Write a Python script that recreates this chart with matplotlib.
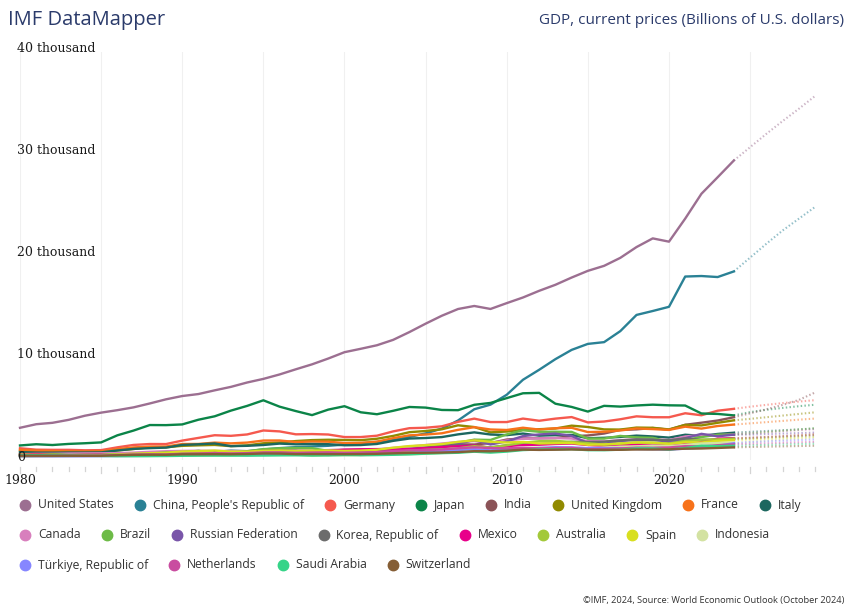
import matplotlib
matplotlib.use("Agg")
import matplotlib.pyplot as plt
import numpy as np
from matplotlib.lines import Line2D
from matplotlib.transforms import blended_transform_factory

# %% data (billions of U.S. dollars, 1980-2029; from 2024 on = projections)
years = list(range(1980, 2030))
last_actual = 2024

us = [2857, 3207, 3343, 3634, 4037, 4339, 4580, 4855, 5236, 5642,
      5963, 6158, 6520, 6859, 7287, 7640, 8073, 8578, 9063, 9631,
      10251, 10582, 10929, 11457, 12217, 13039, 13816, 14474, 14770, 14478,
      15049, 15600, 16254, 16843, 17551, 18206, 18695, 19477, 20533, 21381,
      21060, 23315, 25744, 27361, 29000, 30300, 31600, 32850, 34050, 35300]
china = [305, 290, 284, 304, 314, 310, 301, 327, 410, 456,
         395, 415, 495, 623, 566, 737, 868, 966, 1032, 1097,
         1214, 1344, 1477, 1671, 1967, 2309, 2775, 3571, 4670, 5122,
         6087, 7552, 8532, 9570, 10476, 11062, 11233, 12311, 13895, 14280,
         14688, 17650, 17700, 17600, 18150, 19500, 20850, 22150, 23300, 24450]
germany = [854, 718, 700, 700, 657, 673, 946, 1180, 1270, 1266,
           1604, 1868, 2130, 2071, 2206, 2593, 2504, 2218, 2244, 2200,
           1950, 1951, 2083, 2505, 2818, 2861, 3002, 3440, 3752, 3418,
           3417, 3758, 3545, 3753, 3905, 3383, 3470, 3691, 3977, 3889,
           3887, 4278, 4083, 4527, 4710, 4920, 5100, 5270, 5420, 5560]
japan = [1129, 1248, 1172, 1280, 1346, 1428, 2121, 2586, 3126, 3117,
         3186, 3648, 3981, 4537, 4999, 5546, 4923, 4492, 4098, 4636,
         4968, 4374, 4182, 4519, 4893, 4831, 4601, 4579, 5106, 5289,
         5759, 6233, 6272, 5212, 4897, 4444, 5003, 4930, 5041, 5118,
         5055, 5034, 4256, 4213, 4070, 4390, 4617, 4799, 4968, 5110]
india = [186, 196, 204, 222, 215, 237, 253, 283, 301, 301,
         327, 275, 293, 284, 333, 367, 400, 423, 429, 466,
         477, 494, 524, 618, 722, 834, 949, 1238, 1224, 1365,
         1708, 1823, 1828, 1857, 2039, 2104, 2295, 2652, 2703, 2836,
         2672, 3150, 3354, 3568, 3889, 4272, 4665, 5092, 5577, 6307]
uk = [604, 587, 550, 517, 490, 521, 643, 781, 949, 949,
      1093, 1141, 1180, 1061, 1141, 1344, 1419, 1560, 1653, 1687,
      1666, 1646, 1786, 2063, 2426, 2543, 2712, 3100, 2929, 2412,
      2491, 2675, 2719, 2786, 3066, 2934, 2700, 2683, 2879, 2857,
      2697, 3143, 3089, 3345, 3588, 3730, 3890, 4050, 4210, 4370]
france = [702, 617, 582, 557, 530, 553, 770, 937, 1022, 1027,
          1272, 1277, 1407, 1334, 1410, 1609, 1615, 1464, 1513, 1497,
          1366, 1383, 1501, 1844, 2119, 2197, 2320, 2657, 2918, 2690,
          2643, 2863, 2683, 2812, 2856, 2439, 2472, 2595, 2790, 2729,
          2647, 2966, 2779, 3031, 3174, 3290, 3410, 3530, 3650, 3760]
italy = [480, 432, 428, 443, 443, 455, 638, 794, 867, 920,
         1182, 1245, 1323, 1064, 1094, 1174, 1312, 1243, 1270, 1252,
         1147, 1169, 1276, 1578, 1806, 1858, 1949, 2214, 2410, 2199,
         2138, 2294, 2087, 2141, 2162, 1837, 1878, 1961, 2093, 2012,
         1897, 2179, 2067, 2255, 2376, 2460, 2540, 2620, 2700, 2780]
canada = [276, 306, 314, 341, 355, 364, 377, 431, 507, 565,
          596, 612, 594, 579, 579, 604, 628, 655, 634, 678,
          744, 738, 760, 895, 1026, 1173, 1319, 1468, 1553, 1376,
          1617, 1793, 1828, 1847, 1805, 1556, 1528, 1650, 1725, 1744,
          1655, 2008, 2161, 2142, 2214, 2320, 2420, 2520, 2620, 2720]
brazil = [237, 263, 281, 203, 209, 222, 268, 294, 330, 445,
          462, 602, 400, 438, 558, 769, 850, 883, 864, 599,
          655, 559, 509, 558, 669, 892, 1108, 1397, 1696, 1667,
          2209, 2616, 2465, 2472, 2456, 1802, 1797, 2063, 1917, 1873,
          1476, 1670, 1951, 2174, 2188, 2307, 2436, 2564, 2691, 2822]
russia = [None] * 12 + [
          460, 435, 395, 395, 392, 405, 271, 196,
          260, 307, 345, 430, 591, 764, 990, 1300, 1661, 1223,
          1525, 2046, 2208, 2292, 2059, 1363, 1277, 1574, 1657, 1693,
          1493, 1837, 2266, 2021, 2184, 2196, 2240, 2290, 2340, 2390]
korea = [68, 77, 83, 93, 104, 108, 124, 157, 207, 256,
         298, 352, 376, 420, 502, 612, 649, 601, 384, 497,
         576, 548, 627, 703, 793, 935, 1053, 1172, 1047, 944,
         1144, 1253, 1278, 1370, 1484, 1466, 1500, 1624, 1725, 1651,
         1644, 1818, 1674, 1713, 1760, 1830, 1900, 1970, 2040, 2110]
mexico = [228, 293, 197, 170, 211, 219, 150, 165, 204, 244,
          289, 342, 390, 452, 478, 341, 406, 503, 528, 600,
          708, 756, 772, 729, 782, 877, 975, 1053, 1110, 900,
          1058, 1180, 1201, 1274, 1315, 1171, 1078, 1159, 1222, 1269,
          1090, 1273, 1464, 1789, 1848, 1890, 1960, 2040, 2120, 2200]
australia = [163, 187, 194, 177, 194, 180, 182, 189, 235, 299,
             312, 326, 325, 312, 322, 368, 401, 436, 399, 389,
             416, 379, 396, 467, 614, 695, 748, 853, 1055, 928,
             1148, 1398, 1547, 1577, 1468, 1351, 1208, 1327, 1427, 1392,
             1328, 1555, 1693, 1724, 1802, 1880, 1950, 2030, 2110, 2200]
spain = [232, 204, 198, 172, 173, 182, 251, 317, 374, 417,
         536, 575, 629, 525, 529, 612, 643, 590, 619, 634,
         598, 627, 708, 907, 1069, 1157, 1264, 1478, 1631, 1491,
         1421, 1478, 1324, 1355, 1372, 1196, 1233, 1313, 1421, 1394,
         1277, 1447, 1420, 1582, 1647, 1710, 1770, 1830, 1890, 1950]
indonesia = [99, 115, 122, 107, 111, 111, 102, 97, 108, 124,
             138, 154, 168, 187, 204, 230, 261, 243, 112, 168,
             179, 174, 213, 258, 279, 310, 397, 470, 558, 579,
             755, 893, 918, 913, 891, 861, 932, 1015, 1042, 1119,
             1059, 1187, 1319, 1371, 1403, 1490, 1590, 1700, 1810, 1930]
turkiye = [95, 96, 84, 79, 75, 87, 93, 106, 112, 144,
           207, 210, 219, 247, 177, 232, 249, 256, 275, 256,
           274, 201, 240, 315, 409, 506, 557, 681, 770, 649,
           777, 838, 881, 957, 939, 864, 869, 859, 779, 760,
           720, 818, 907, 1108, 1344, 1460, 1530, 1590, 1650, 1720]
netherlands = [192, 163, 158, 151, 141, 141, 196, 240, 255, 253,
               318, 326, 357, 350, 378, 452, 450, 413, 432, 447,
               416, 432, 475, 582, 662, 689, 733, 849, 948, 870,
               848, 904, 839, 878, 892, 765, 784, 834, 915, 910,
               932, 1055, 1047, 1154, 1228, 1280, 1330, 1380, 1430, 1480]
saudi = [165, 184, 154, 129, 119, 104, 86, 86, 88, 96,
         117, 132, 137, 133, 135, 143, 158, 165, 146, 161,
         190, 184, 189, 216, 258, 328, 377, 416, 520, 429,
         528, 676, 741, 753, 766, 669, 666, 715, 846, 838,
         734, 874, 1108, 1068, 1100, 1137, 1180, 1220, 1260, 1300]
switzerland = [125, 122, 122, 124, 118, 120, 170, 211, 222, 215,
               265, 268, 276, 269, 295, 344, 334, 285, 292, 284,
               279, 288, 313, 362, 403, 418, 437, 484, 570, 563,
               618, 723, 694, 712, 737, 705, 699, 705, 736, 732,
               752, 813, 832, 885, 942, 980, 1010, 1040, 1070, 1100]

countries = [
    "United States", "China, People's Republic of", "Germany", "Japan",
    "India", "United Kingdom", "France", "Italy",
    "Canada", "Brazil", "Russian Federation", "Korea, Republic of",
    "Mexico", "Australia", "Spain", "Indonesia",
    "Türkiye, Republic of", "Netherlands", "Saudi Arabia", "Switzerland",
]
series = [us, china, germany, japan, india, uk, france, italy,
          canada, brazil, russia, korea, mexico, australia, spain, indonesia,
          turkiye, netherlands, saudi, switzerland]
colors = ["#9c6f91", "#2a8195", "#f5594e", "#0b8448", "#8b5357", "#918a00",
          "#f7721a", "#1c675f", "#d87fbd", "#6dbb47", "#7955a9", "#6c6c6c",
          "#e8008a", "#a3c93a", "#d8df1f", "#d3e2a2", "#8686ff", "#c94ca0",
          "#36d488", "#855e35"]
y_ticks = [0, 10000, 20000, 30000, 40000]
y_labels = ["0", "10 thousand", "20 thousand", "30 thousand", "40 thousand"]
x_labels = [1980, 1990, 2000, 2010, 2020]

# %% figure
W, H = 850, 614
fig = plt.figure(figsize=(W / 100, H / 100), dpi=100)
ax = fig.add_axes([20 / W, (H - 460) / H, 795 / W, 408 / H])
ax.set_xlim(1980, 2029)
ax.set_ylim(-293, 39609)
for s in ax.spines.values():
    s.set_visible(False)
ax.set_xticks([])
ax.set_yticks([])

for g in range(1980, 2030, 5):
    ax.axvline(g, color="#f0f0f0", lw=0.8, zorder=0)

yrs = np.array(years)
cut = years.index(last_actual)
for name, vals, c in zip(countries, series, colors):
    v = np.array([np.nan if x is None else x for x in vals], dtype=float)
    ax.plot(yrs[:cut + 1], v[:cut + 1], color=c, lw=1.7, clip_on=False,
            solid_joinstyle="round")
    ax.plot(yrs[cut:], v[cut:], color=c, lw=1.5, alpha=0.5,
            linestyle=(0, (0.7, 1.1)), clip_on=False)

# y labels sit inside the plot at the left
serif = "DejaVu Serif"
ty = blended_transform_factory(fig.transFigure, ax.transData)
for val, lab in zip(y_ticks, y_labels):
    ax.text(17 / W, val, lab, transform=ty, ha="left", va="center",
            fontsize=9, family=serif, color="#1a1a1a", clip_on=False)

# x ticks every year, labels every decade
tx = blended_transform_factory(ax.transData, fig.transFigure)
for yr in range(1980, 2030):
    top = (H - 467) / H
    bot = (H - (473 if yr % 5 == 0 else 471)) / H
    ax.plot([yr, yr], [top, bot], transform=tx, color="#d4d4d4", lw=0.9,
            clip_on=False)
for yr in x_labels:
    ax.text(yr, (H - 481) / H, str(yr), transform=tx, ha="center",
            va="center", fontsize=9, family=serif, color="#1a1a1a")

# header / footer
navy = "#2b3b6b"
fig.text(8 / W, 1 - 20 / H, "IMF DataMapper", fontsize=14.5,
         family="Open Sans", color=navy, va="center", ha="left")
fig.text(844 / W, 1 - 20 / H, "GDP, current prices (Billions of U.S. dollars)",
         fontsize=11, family="Open Sans", color=navy, va="center", ha="right")
fig.text(844 / W, 1 - 601 / H,
         "©IMF, 2024, Source: World Economic Outlook (October 2024)",
         fontsize=6.7, family="Open Sans", color="#333333", va="center",
         ha="right")

# legend: three rows, flowing left to right
rows = [range(0, 8), range(8, 16), range(16, 20)]
row_y = [505, 535, 565]
renderer = fig.canvas.get_renderer()
for idxs, ry in zip(rows, row_y):
    x = 25
    for i in idxs:
        fig.add_artist(Line2D([x / W], [1 - ry / H], marker="o", ms=7.5,
                              color=colors[i], linestyle="none",
                              transform=fig.transFigure))
        t = fig.text((x + 13) / W, 1 - ry / H, countries[i], fontsize=8.7,
                     family="Open Sans", color="#333333", va="center",
                     ha="left")
        w = t.get_window_extent(renderer).width
        x = x + 13 + w + 26

fig.savefig("out.png", dpi=100)
